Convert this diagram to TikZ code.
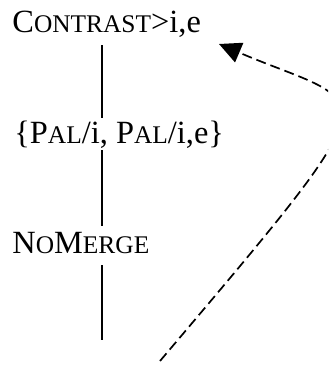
\documentclass[tikz,border=0pt]{standalone}
\usepackage{fontspec}
\setmainfont{Liberation Serif}
\usetikzlibrary{arrows.meta}
\newcommand{\sml}[1]{{\fontsize{12.7}{14}\selectfont #1}}

\begin{document}
\begin{tikzpicture}[x=0.5pt,y=-0.5pt,
    word/.style={anchor=base west,inner sep=0pt,text height=10.5pt,text depth=2.5pt,font=\fontsize{16.2}{18}\selectfont},
    stem/.style={line width=0.85pt},
    link/.style={line width=0.85pt,dash pattern=on 5pt off 2.5pt,-{Triangle[length=11pt,width=10.5pt]}}]
  \useasboundingbox (0,0) rectangle (328,369);
  \clip (0,0) rectangle (328,369);

  % ranked constraints
  \node[word] (con) at (12,33) {C\sml{ONTRAST}>i,e};
  \node[word] (pal) at (14,143) {\{P\sml{AL}/i, P\sml{AL}/i,e\}};
  \node[word] (nom) at (12,253) {N\sml{O}M\sml{ERGE}};

  % domination lines
  \coordinate (stem) at (102,0);
  \coordinate (foot) at (102,340);
  \draw[stem,shorten <=3.5pt,shorten >=2pt] (con.south -| stem) -- (pal.north -| stem);
  \draw[stem,shorten <=1pt,shorten >=3pt] (pal.south -| stem) -- (nom.north -| stem);
  \draw[stem,shorten <=3.5pt] (nom.south -| stem) -- (foot);

  % promotion arrow
  \coordinate (tail) at (160,361);
  \coordinate (tip) at (219,44);
  \draw[link] (tail) .. controls (402,75) and (374,110) .. (tip);
\end{tikzpicture}
\end{document}
